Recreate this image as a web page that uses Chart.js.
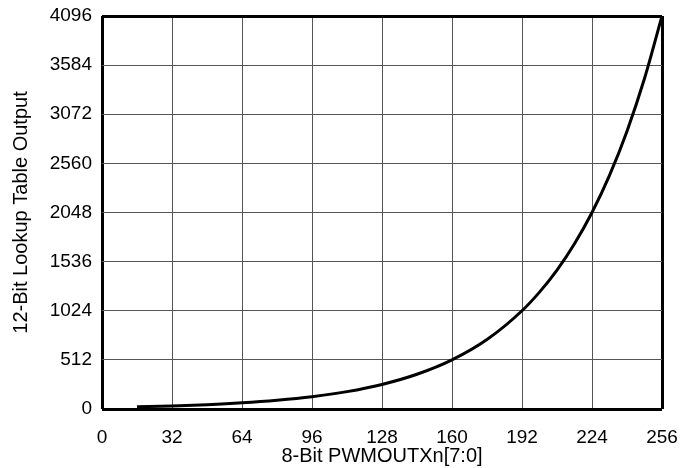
<!DOCTYPE html>
<html>
<head>
<meta charset="utf-8">
<script src="https://cdn.jsdelivr.net/npm/chart.js@4"></script>
<style>
  html, body { margin: 0; padding: 0; background: #fff; }
  #wrap { width: 681px; height: 468px; }
</style>
</head>
<body>
<div id="wrap"><canvas id="chart" width="681" height="468"></canvas></div>
<script>
// values
const pwmIn = [16, 32, 48, 64, 80, 96, 112, 128, 144, 160, 176, 192, 200, 208, 216, 224, 232, 240, 248, 256];
const lutOut = [23, 32, 45, 64, 91, 128, 181, 256, 362, 512, 724, 1024, 1218, 1448, 1722, 2048, 2435, 2896, 3444, 4096];

const xTicks = [0, 32, 64, 96, 128, 160, 192, 224, 256];
const yTicks = [0, 512, 1024, 1536, 2048, 2560, 3072, 3584, 4096];

const font = "'Liberation Sans', Arial, sans-serif";

// frame lines on the edges, thin grey grid inside
function gridColor(ctx) {
  const v = ctx.tick ? ctx.tick.value : null;
  return (v === 0 || v === 256 || v === 4096) ? "#000" : "#555";
}
function gridWidth(ctx) {
  const v = ctx.tick ? ctx.tick.value : null;
  return (v === 0 || v === 256 || v === 4096) ? 3 : 1;
}

const ctx = document.getElementById("chart").getContext("2d");
new Chart(ctx, {
  type: "line",
  data: {
    datasets: [
      {
        data: pwmIn.map((x, i) => ({ x: x, y: lutOut[i] })),
        borderColor: "#000",
        borderWidth: 3,
        pointRadius: 0,
        cubicInterpolationMode: "monotone",
        fill: false,
      },
    ],
  },
  options: {
    responsive: false,
    animation: false,
    layout: { padding: { top: 16, right: 19, left: 0, bottom: 0 } },
    plugins: {
      legend: { display: false },
      tooltip: { enabled: false },
    },
    scales: {
      x: {
        type: "linear",
        min: 0,
        max: 256,
        afterBuildTicks: (scale) => {
          scale.ticks = xTicks.map((v) => ({ value: v }));
        },
        afterFit: (scale) => {
          scale.height = 59;
          scale.paddingLeft = 0;
          scale.paddingRight = 0;
        },
        border: { display: false },
        grid: { color: gridColor, lineWidth: gridWidth, drawTicks: false },
        ticks: {
          color: "#000",
          padding: 17,
          maxRotation: 0,
          callback: (v) => String(v),
          font: { family: font, size: 19 },
        },
        title: {
          display: true,
          text: "8-Bit PWMOUTXn[7:0]",
          color: "#000",
          padding: { top: -4, bottom: 0 },
          font: { family: font, size: 20 },
        },
      },
      y: {
        type: "linear",
        min: 0,
        max: 4096,
        afterBuildTicks: (scale) => {
          scale.ticks = yTicks.map((v) => ({ value: v }));
        },
        afterFit: (scale) => {
          scale.width = 102;
          scale.paddingTop = 0;
          scale.paddingBottom = 0;
        },
        border: { display: false },
        grid: { color: gridColor, lineWidth: gridWidth, drawTicks: false },
        ticks: {
          color: "#000",
          padding: 10,
          callback: (v) => String(v),
          font: { family: font, size: 19 },
        },
        title: {
          display: true,
          text: "12-Bit Lookup Table Output",
          color: "#000",
          padding: { top: 9, bottom: 0 },
          font: { family: font, size: 20 },
        },
      },
    },
  },
});
</script>
</body>
</html>
